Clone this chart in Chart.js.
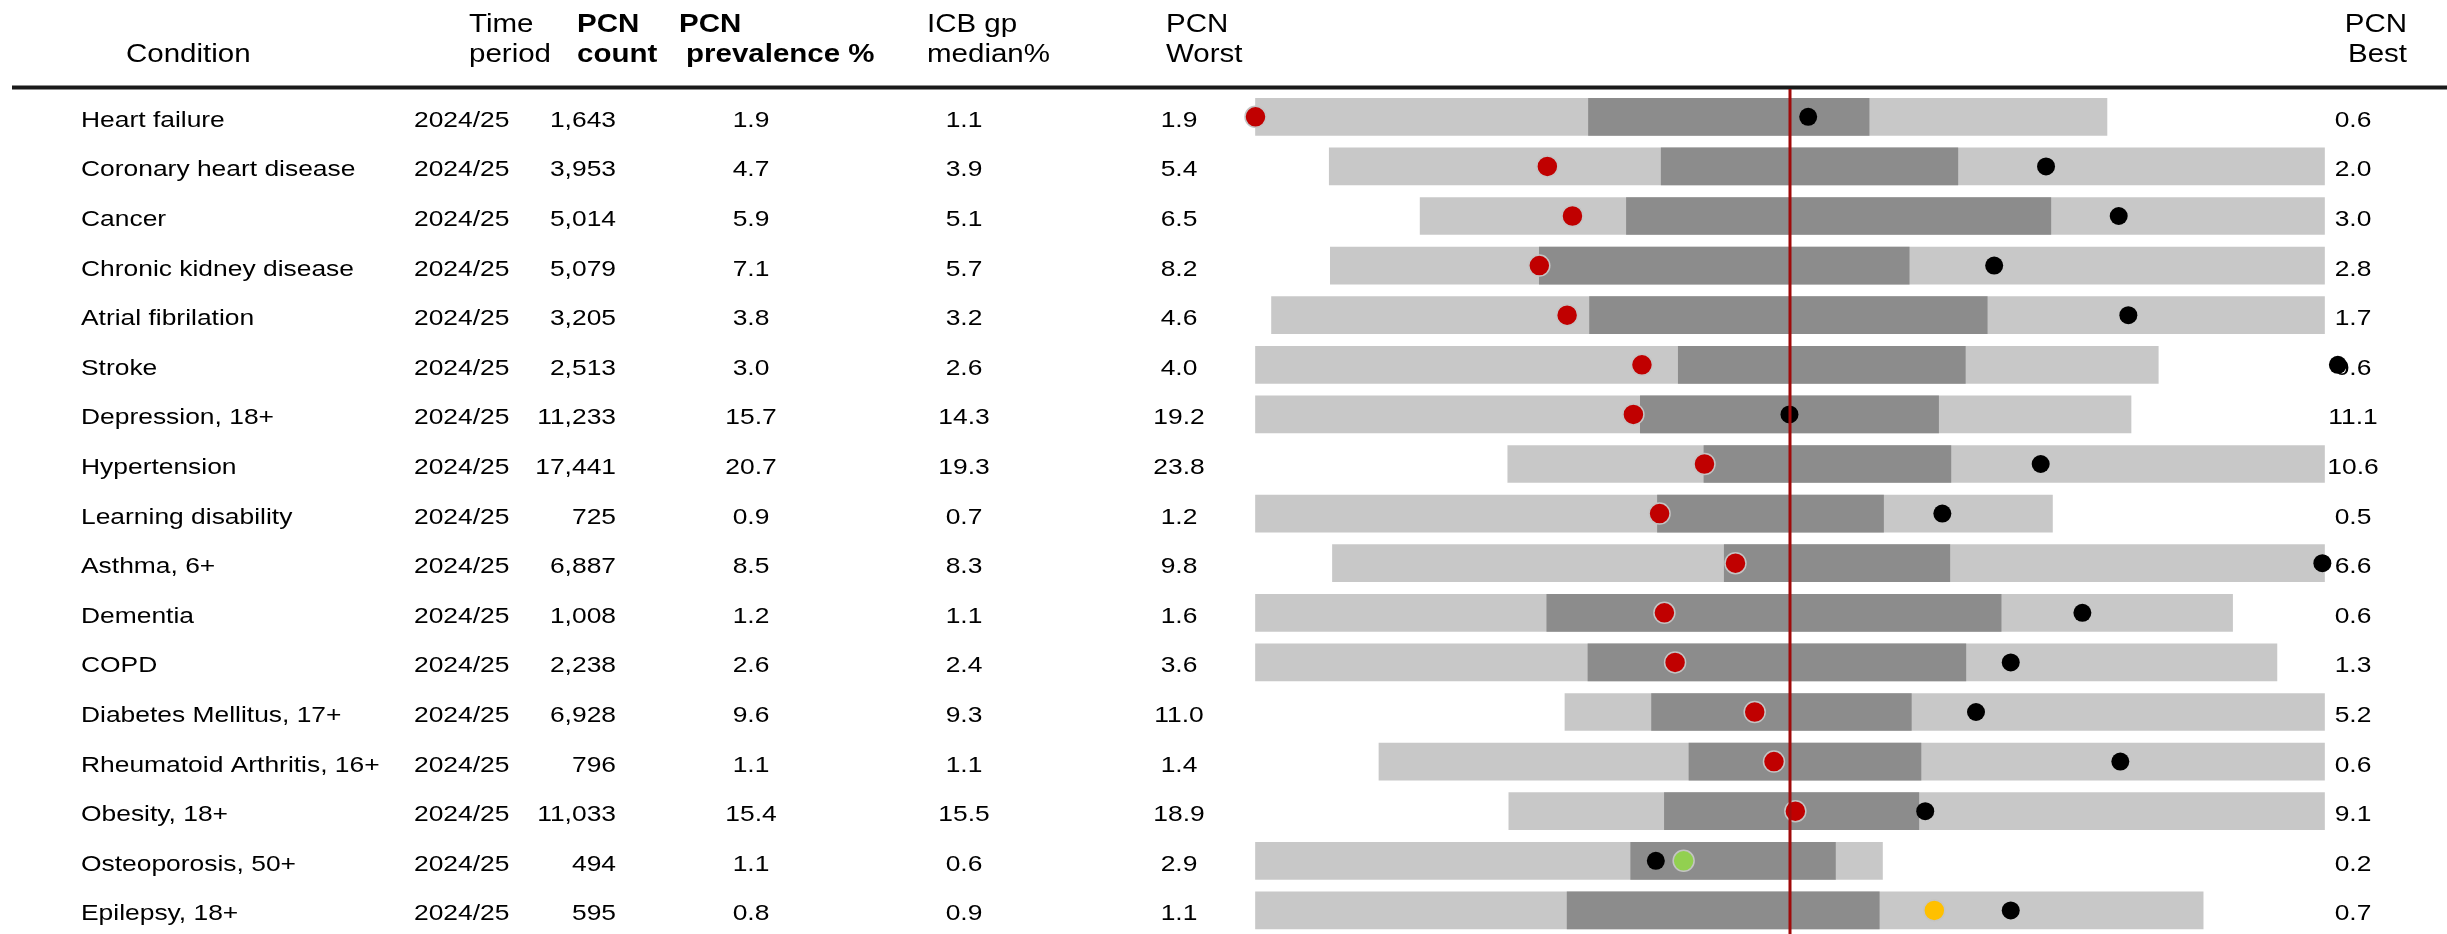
<!DOCTYPE html>
<html>
<head>
<meta charset="utf-8">
<script src="https://cdn.jsdelivr.net/npm/chart.js@4.4.1/dist/chart.umd.min.js"></script>
<style>
html,body{margin:0;padding:0;background:#fff;overflow:hidden}
canvas{display:block}
</style>
</head>
<body>
<canvas id="c" width="2447" height="934"></canvas>
<script>
// ---- table data ----
const conditions = ["Heart failure","Coronary heart disease","Cancer","Chronic kidney disease","Atrial fibrilation","Stroke","Depression, 18+","Hypertension","Learning disability","Asthma, 6+","Dementia","COPD","Diabetes Mellitus, 17+","Rheumatoid Arthritis, 16+","Obesity, 18+","Osteoporosis, 50+","Epilepsy, 18+"];
const timePeriods = ["2024/25","2024/25","2024/25","2024/25","2024/25","2024/25","2024/25","2024/25","2024/25","2024/25","2024/25","2024/25","2024/25","2024/25","2024/25","2024/25","2024/25"];
const pcnCounts = ["1,643","3,953","5,014","5,079","3,205","2,513","11,233","17,441","725","6,887","1,008","2,238","6,928","796","11,033","494","595"];
const pcnPrevalence = ["1.9","4.7","5.9","7.1","3.8","3.0","15.7","20.7","0.9","8.5","1.2","2.6","9.6","1.1","15.4","1.1","0.8"];
const icbMedian = ["1.1","3.9","5.1","5.7","3.2","2.6","14.3","19.3","0.7","8.3","1.1","2.4","9.3","1.1","15.5","0.6","0.9"];
const pcnWorst = ["1.9","5.4","6.5","8.2","4.6","4.0","19.2","23.8","1.2","9.8","1.6","3.6","11.0","1.4","18.9","2.9","1.1"];
const pcnBest = ["0.6","2.0","3.0","2.8","1.7","0.6","11.1","10.6","0.5","6.6","0.6","1.3","5.2","0.6","9.1","0.2","0.7"];

// ---- spine positions (0 = centre line, -1 = worst edge, +1 = best edge) ----
const rangeLow  = [-1.0,-0.862,-0.692,-0.860,-0.970,-1.0,-1.0,-0.528,-1.0,-0.856,-1.0,-1.0,-0.421,-0.769,-0.526,-1.0,-1.0];
const rangeHigh = [0.593,1.0,1.0,1.0,1.0,0.689,0.638,1.0,0.491,1.0,0.828,0.911,1.0,1.0,1.0,0.173,0.773];
const iqrLow    = [-0.377,-0.241,-0.306,-0.469,-0.375,-0.209,-0.280,-0.161,-0.248,-0.123,-0.455,-0.378,-0.259,-0.189,-0.235,-0.298,-0.417];
const iqrHigh   = [0.148,0.314,0.488,0.223,0.369,0.328,0.278,0.301,0.175,0.299,0.395,0.329,0.227,0.245,0.241,0.085,0.167];
const pcnMarker = [-1.0,-0.454,-0.407,-0.469,-0.417,-0.277,-0.293,-0.160,-0.244,-0.102,-0.235,-0.215,-0.066,-0.030,0.010,-0.199,0.270];
const icbMarker = [0.034,0.479,0.615,0.382,0.633,1.025,-0.001,0.469,0.285,0.996,0.547,0.413,0.348,0.618,0.253,-0.251,0.413];
const pcnMarkerColor = ["red","red","red","red","red","red","red","red","red","red","red","red","red","red","red","green","amber"];

const colorMap = {red:"#C00000", green:"#92D050", amber:"#FFC000"};

const rowFont = '22px "Liberation Sans", Arial, sans-serif';
const rowScaleX = 1.2;
const headFont = '25px "Liberation Sans", Arial, sans-serif';
const headBold = 'bold 25px "Liberation Sans", Arial, sans-serif';
const headScaleX = 1.18;

function txt(ctx, s, x, y, align, font, sx) {
  ctx.save();
  ctx.translate(x, y);
  ctx.scale(sx, 1);
  ctx.font = font;
  ctx.textAlign = align;
  ctx.textBaseline = 'alphabetic';
  ctx.fillStyle = '#000';
  ctx.fillText(s, 0, 0);
  ctx.restore();
}

const tablePlugin = {
  id: 'spineTable',
  beforeDatasetsDraw(chart) {
    const ctx = chart.ctx;
    const ys = chart.scales.y;
    ctx.save();
    // header rule
    ctx.fillStyle = '#1a1a1a';
    ctx.fillRect(12, 85.5, 2435, 4);
    const b1 = 32, b2 = 62;
    txt(ctx, "Condition", 126, b2, 'left', headFont, headScaleX);
    txt(ctx, "Time", 469, b1, 'left', headFont, headScaleX);
    txt(ctx, "period", 469, b2, 'left', headFont, headScaleX);
    txt(ctx, "PCN", 577, b1, 'left', headBold, headScaleX);
    txt(ctx, "count", 577, b2, 'left', headBold, headScaleX);
    txt(ctx, "PCN", 679, b1, 'left', headBold, headScaleX);
    txt(ctx, "prevalence %", 686, b2, 'left', headBold, headScaleX);
    txt(ctx, "ICB gp", 927, b1, 'left', headFont, headScaleX);
    txt(ctx, "median%", 927, b2, 'left', headFont, headScaleX);
    txt(ctx, "PCN", 1166, b1, 'left', headFont, headScaleX);
    txt(ctx, "Worst", 1166, b2, 'left', headFont, headScaleX);
    txt(ctx, "PCN", 2407, b1, 'right', headFont, headScaleX);
    txt(ctx, "Best", 2407, b2, 'right', headFont, headScaleX);
    for (let i = 0; i < conditions.length; i++) {
      const by = ys.getPixelForValue(i) + 10;
      txt(ctx, conditions[i], 81, by, 'left', rowFont, rowScaleX);
      txt(ctx, timePeriods[i], 414, by, 'left', rowFont, rowScaleX);
      txt(ctx, pcnCounts[i], 616, by, 'right', rowFont, rowScaleX);
      txt(ctx, pcnPrevalence[i], 751, by, 'center', rowFont, rowScaleX);
      txt(ctx, icbMedian[i], 964, by, 'center', rowFont, rowScaleX);
      txt(ctx, pcnWorst[i], 1179, by, 'center', rowFont, rowScaleX);
      txt(ctx, pcnBest[i], 2353, by, 'center', rowFont, rowScaleX);
    }
    ctx.restore();
  },
  afterDatasetsDraw(chart) {
    const ctx = chart.ctx;
    const x = chart.scales.x.getPixelForValue(0);
    ctx.save();
    ctx.strokeStyle = '#A00A0A';
    ctx.lineWidth = 3;
    ctx.beginPath();
    ctx.moveTo(x, 89);
    ctx.lineTo(x, chart.height);
    ctx.stroke();
    ctx.restore();
  }
};

const rows = conditions.map((_, i) => i);
const centrePx = 1790, halfPx = 534.5, xExt = 1.1;
const rowPitch = 49.6, areaTop = 92;

new Chart(document.getElementById('c'), {
  type: 'bar',
  data: {
    datasets: [
      {
        label: 'Range',
        data: rows.map(i => ({x: [rangeLow[i], rangeHigh[i]], y: i})),
        backgroundColor: '#C8C8C8',
        barThickness: 37,
        grouped: false,
        order: 4
      },
      {
        label: 'Interquartile range',
        data: rows.map(i => ({x: [iqrLow[i], iqrHigh[i]], y: i})),
        backgroundColor: '#8C8C8C',
        barThickness: 37,
        grouped: false,
        order: 3
      },
      {
        type: 'scatter',
        label: 'ICB gp median',
        data: rows.map(i => ({x: icbMarker[i], y: i})),
        pointRadius: 9,
        pointHoverRadius: 9,
        pointBackgroundColor: '#000',
        pointBorderWidth: 0,
        clip: false,
        order: 2
      },
      {
        type: 'scatter',
        label: 'PCN prevalence',
        data: rows.map(i => ({x: pcnMarker[i], y: i})),
        pointRadius: 10.5,
        pointHoverRadius: 10.5,
        pointBackgroundColor: rows.map(i => colorMap[pcnMarkerColor[i]]),
        pointBorderColor: '#C4C4C4',
        pointBorderWidth: 1.5,
        clip: false,
        order: 1
      }
    ]
  },
  options: {
    indexAxis: 'y',
    responsive: false,
    animation: false,
    devicePixelRatio: 1,
    events: [],
    layout: {
      autoPadding: false,
      padding: {
        left: centrePx - xExt * halfPx,
        right: 2447 - (centrePx + xExt * halfPx),
        top: areaTop,
        bottom: 0
      }
    },
    scales: {
      x: { type: 'linear', min: -xExt, max: xExt, offset: false, display: false },
      y: { type: 'linear', min: -0.5, max: -0.5 + (934 - areaTop) / rowPitch, reverse: true, offset: false, display: false }
    },
    plugins: { legend: { display: false }, tooltip: { enabled: false }, title: { display: false } }
  },
  plugins: [tablePlugin]
});
</script>
</body>
</html>
